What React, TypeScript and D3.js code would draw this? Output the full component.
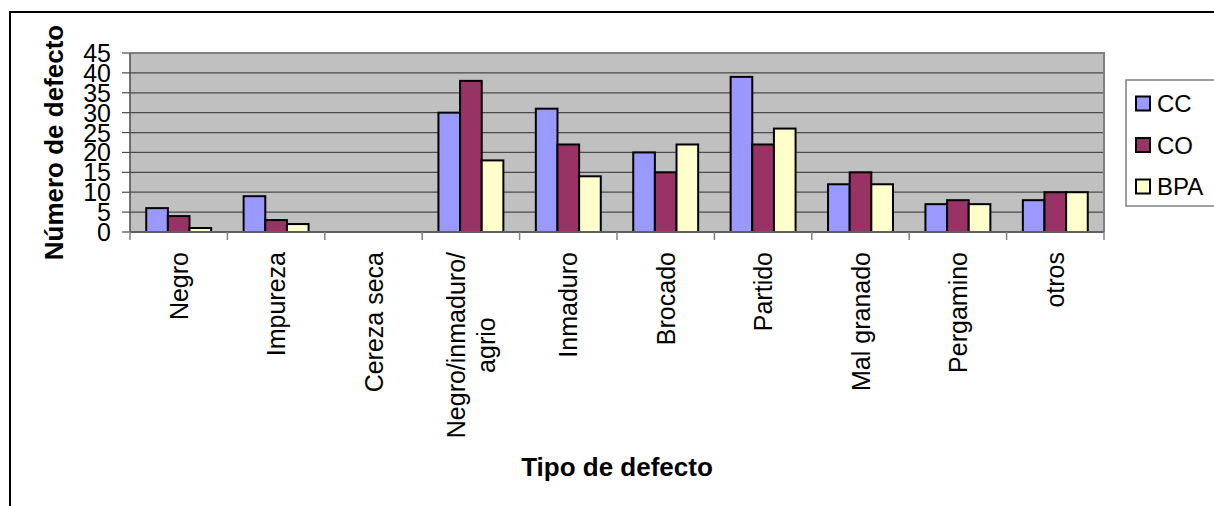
import * as d3 from "d3";
import { useEffect, useRef } from "react";

const categories = [
  "Negro",
  "Impureza",
  "Cereza seca",
  "Negro/inmaduro/\nagrio",
  "Inmaduro",
  "Brocado",
  "Partido",
  "Mal granado",
  "Pergamino",
  "otros",
];
const seriesNames = ["CC", "CO", "BPA"];
const ccValues = [6, 9, 0, 30, 31, 20, 39, 12, 7, 8];
const coValues = [4, 3, 0, 38, 22, 15, 22, 15, 8, 10];
const bpaValues = [1, 2, 0, 18, 14, 22, 26, 12, 7, 10];
const yTicks = [0, 5, 10, 15, 20, 25, 30, 35, 40, 45];
const seriesColors = ["#9999FF", "#993366", "#FFFFCC"];

const FONT = "'Liberation Sans', Arial, sans-serif";

export default function App() {
  const svgRef = useRef<SVGSVGElement>(null);
  const width = 1214;
  const height = 506;

  useEffect(() => {
    const svg = d3.select(svgRef.current);
    svg.selectAll("*").remove();

    const plot = { left: 130, top: 53, right: 1104, bottom: 232 };
    const series = [ccValues, coValues, bpaValues];

    // outer frame (runs off the right/bottom edge like the original)
    svg.append("rect")
      .attr("x", 10).attr("y", 12)
      .attr("width", width + 20).attr("height", height + 20)
      .attr("fill", "#fff").attr("stroke", "#000").attr("stroke-width", 2);

    const x = d3.scaleBand<string>().domain(categories).range([plot.left, plot.right]).padding(0);
    const xs = d3.scaleBand<string>().domain(seriesNames).range([0, x.bandwidth()])
      .paddingInner(0).paddingOuter(0.75);
    const y = d3.scaleLinear().domain([0, 45]).range([plot.bottom, plot.top]);

    // plot background
    svg.append("rect")
      .attr("x", plot.left).attr("y", plot.top)
      .attr("width", plot.right - plot.left).attr("height", plot.bottom - plot.top)
      .attr("fill", "#C0C0C0");

    // gridlines
    svg.append("g").selectAll("line")
      .data(yTicks.filter((t) => t > 0 && t < 45))
      .enter().append("line")
      .attr("x1", plot.left).attr("x2", plot.right)
      .attr("y1", (d) => y(d)).attr("y2", (d) => y(d))
      .attr("stroke", "#4a4a4a").attr("stroke-width", 1.2);

    // top + right plot border
    svg.append("path")
      .attr("d", `M${plot.left},${plot.top}H${plot.right}V${plot.bottom}`)
      .attr("fill", "none").attr("stroke", "#808080").attr("stroke-width", 2);

    // bars
    const barData: { cat: string; s: string; v: number; i: number }[] = [];
    categories.forEach((c, ci) => {
      seriesNames.forEach((s, si) => {
        if (series[si][ci] > 0) barData.push({ cat: c, s, v: series[si][ci], i: si });
      });
    });
    svg.append("g").selectAll("rect")
      .data(barData)
      .enter().append("rect")
      .attr("x", (d) => x(d.cat)! + xs(d.s)!)
      .attr("y", (d) => y(d.v))
      .attr("width", xs.bandwidth())
      .attr("height", (d) => plot.bottom - y(d.v))
      .attr("fill", (d) => seriesColors[d.i])
      .attr("stroke", "#000").attr("stroke-width", 2);

    // axes
    svg.append("line")
      .attr("x1", plot.left).attr("x2", plot.left)
      .attr("y1", plot.top).attr("y2", plot.bottom)
      .attr("stroke", "#4a4a4a").attr("stroke-width", 1.5);
    svg.append("line")
      .attr("x1", plot.left).attr("x2", plot.right)
      .attr("y1", plot.bottom).attr("y2", plot.bottom)
      .attr("stroke", "#606060").attr("stroke-width", 2);

    // y ticks + labels
    const yt = svg.append("g");
    yt.selectAll("line")
      .data(yTicks).enter().append("line")
      .attr("x1", plot.left - 8).attr("x2", plot.left)
      .attr("y1", (d) => y(d)).attr("y2", (d) => y(d))
      .attr("stroke", "#4a4a4a").attr("stroke-width", 1.2);
    yt.selectAll("text")
      .data(yTicks).enter().append("text")
      .attr("x", 111).attr("y", (d) => y(d))
      .attr("text-anchor", "end").attr("dominant-baseline", "central")
      .attr("font-family", FONT).attr("font-size", 25)
      .text((d) => d);

    // x ticks at category boundaries
    const bounds = categories.map((c) => x(c)!).concat([plot.right]);
    svg.append("g").selectAll("line")
      .data(bounds).enter().append("line")
      .attr("x1", (d) => d).attr("x2", (d) => d)
      .attr("y1", plot.bottom).attr("y2", plot.bottom + 8)
      .attr("stroke", "#808080").attr("stroke-width", 1.5);

    // category labels, rotated, right aligned at the top
    const labelTop = 252;
    const lineGap = 30;
    categories.forEach((c) => {
      const lines = c.split("\n");
      const cx = x(c)! + x.bandwidth() / 2;
      const offsets = lines.map((_, i) => (i - (lines.length - 1) / 2) * lineGap);
      const texts = lines.map((ln, i) =>
        svg.append("text")
          .attr("font-family", FONT).attr("font-size", 25)
          .attr("dominant-baseline", "central")
          .text(ln)
          .attr("data-off", offsets[i])
      );
      const lens = texts.map((t) => (t.node() as SVGTextElement).getComputedTextLength());
      const maxLen = d3.max(lens)!;
      const mid = labelTop + maxLen / 2;
      texts.forEach((t, i) => {
        t.attr("text-anchor", "middle")
          .attr("transform", `translate(${cx + offsets[i]},${mid}) rotate(-90)`);
      });
    });

    // axis titles
    svg.append("text")
      .attr("x", (plot.left + plot.right) / 2).attr("y", 476)
      .attr("text-anchor", "middle")
      .attr("font-family", FONT).attr("font-size", 26).attr("font-weight", "bold")
      .text("Tipo de defecto");
    svg.append("text")
      .attr("transform", `translate(63,${(plot.top + plot.bottom) / 2}) rotate(-90)`)
      .attr("text-anchor", "middle")
      .attr("font-family", FONT).attr("font-size", 26).attr("font-weight", "bold")
      .text("Número de defecto");

    // legend
    const lg = svg.append("g");
    lg.append("rect")
      .attr("x", 1126).attr("y", 80).attr("width", 120).attr("height", 126)
      .attr("fill", "#fff").attr("stroke", "#808080").attr("stroke-width", 1.5);
    const ly = d3.scalePoint<string>().domain(seriesNames).range([103.5, 186.5]);
    seriesNames.forEach((s, i) => {
      lg.append("rect")
        .attr("x", 1136).attr("y", ly(s)! - 7)
        .attr("width", 14).attr("height", 14)
        .attr("fill", seriesColors[i]).attr("stroke", "#000").attr("stroke-width", 2);
      lg.append("text")
        .attr("x", 1157).attr("y", ly(s)!)
        .attr("dominant-baseline", "central")
        .attr("font-family", FONT).attr("font-size", 24)
        .text(s);
    });

    return () => {};
  }, []);

  return (
    <div style={{ position: "fixed", left: 0, top: 0, width, height, overflow: "hidden", background: "#fff" }}>
      <svg ref={svgRef} width={width} height={height} style={{ display: "block" }}></svg>
    </div>
  );
}
